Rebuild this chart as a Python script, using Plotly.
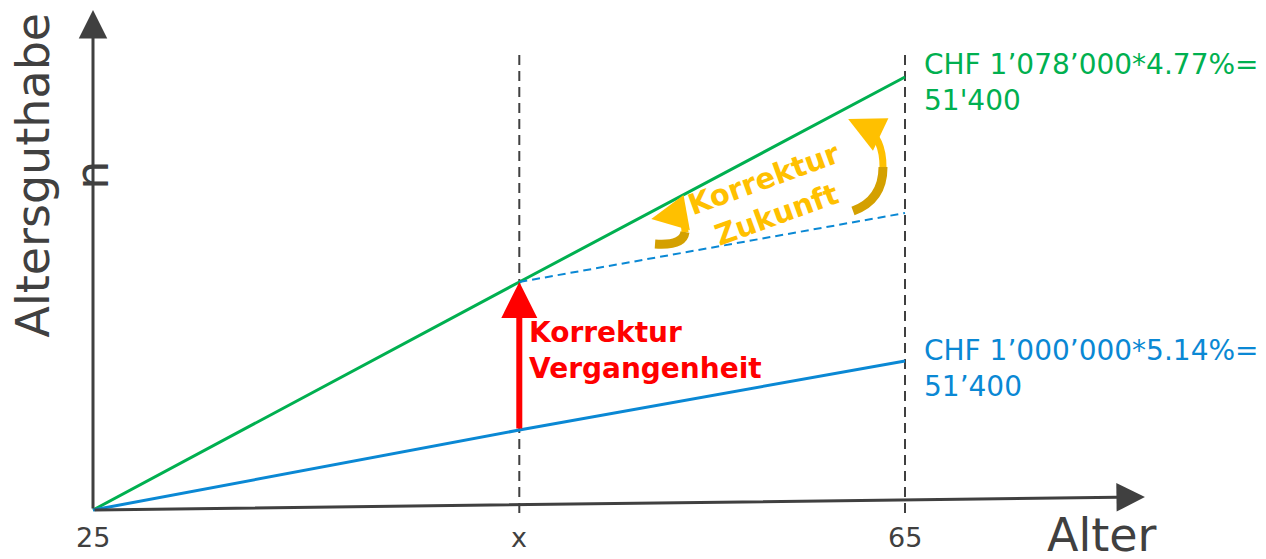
import plotly.graph_objects as go

# Schematic data: age on x, Altersguthaben (arbitrary units) on y
ages = [25, 46, 65]
tick_labels = ["25", "x", "65"]
green_vals = [0, 228, 433]     # Altersguthaben with higher capital
blue_vals = [0, 80, 149]       # original Altersguthaben
proj_ages = [46, 65]
proj_vals = [228, 297]         # projected path after correction
guide_ages = [46, 65]

GREEN = "#00b050"
BLUE = "#0a88d4"
DARK = "#404040"
GOLD = "#ffc000"
GOLD_DARK = "#d4a000"
FONT = "DejaVu Sans"

fig = go.Figure()

# dashed vertical guides at x and 65
for a in guide_ages:
    fig.add_trace(go.Scatter(x=[a, a], y=[-3, 460], mode="lines",
                             line=dict(color=DARK, width=2, dash="10px,6px"),
                             hoverinfo="skip"))

fig.add_trace(go.Scatter(x=ages, y=green_vals, mode="lines",
                         line=dict(color=GREEN, width=3), hoverinfo="skip"))
fig.add_trace(go.Scatter(x=ages, y=blue_vals, mode="lines",
                         line=dict(color=BLUE, width=3), hoverinfo="skip"))
fig.add_trace(go.Scatter(x=proj_ages, y=proj_vals, mode="lines",
                         line=dict(color=BLUE, width=2, dash="8px,5px"),
                         hoverinfo="skip"))

# curved gold arrows (Korrektur Zukunft), lower half a bit darker
fig.add_shape(type="path", path="M 52.685,266 Q 54.064,264 54.163,278",
              line=dict(color=GOLD_DARK, width=9))
fig.add_shape(type="path", path="M 54.163,278 Q 54.163,294 53.325,294",
              line=dict(color=GOLD, width=7))
fig.add_shape(type="path", path="M 62.438,299 Q 63.916,310 63.916,343",
              line=dict(color=GOLD_DARK, width=9))
fig.add_shape(type="path", path="M 63.916,343 Q 63.916,372 63.030,383",
              line=dict(color=GOLD, width=7))

annos = []


def arrow(x, y, ax, ay, color, width, size):
    annos.append(dict(x=x, y=y, ax=ax, ay=ay, xref="x", yref="y",
                      axref="x", ayref="y", text="", showarrow=True,
                      arrowhead=2, arrowsize=size, arrowwidth=width,
                      arrowcolor=color, standoff=0, startstandoff=0))


# axes
arrow(25, 500, 25, 0, DARK, 3, 1.9)
arrow(76.82, 13, 25, 0, DARK, 3, 1.9)
# Korrektur Vergangenheit
arrow(ages[1], green_vals[1], ages[1], blue_vals[1], "#ff0000", 6, 1.2)
# heads of the curved arrows
arrow(52.50, 291, 53.325, 294, GOLD, 6, 1.2)
arrow(62.20, 391, 63.030, 383, GOLD, 6, 1.2)

for a, t in zip(ages, tick_labels):
    annos.append(dict(x=a, y=-27.5, text=t, showarrow=False,
                      font=dict(family=FONT, size=27, color=DARK)))

annos += [
    dict(x=74.7, y=-25, text="Alter", showarrow=False,
         font=dict(family=FONT, size=46, color=DARK)),
    dict(x=23.5, y=335, text="Altersguthabe<br>n", showarrow=False,
         textangle=-90, align="center",
         font=dict(family=FONT, size=46, color=DARK)),
    dict(x=65.84, y=428, text="CHF 1’078’000*4.77%=<br>51'400", showarrow=False,
         xanchor="left", align="left",
         font=dict(family=FONT, size=28, color=GREEN)),
    dict(x=65.84, y=142, text="CHF 1’000’000*5.14%=<br>51’400", showarrow=False,
         xanchor="left", align="left",
         font=dict(family=FONT, size=28, color=BLUE)),
    dict(x=46.4, y=160, text="<b>Korrektur<br>Vergangenheit</b>", showarrow=False,
         xanchor="left", align="left",
         font=dict(family=FONT, size=28, color="#ff0000")),
    dict(x=58.35, y=313, text="<b>Korrektur<br>Zukunft</b>", showarrow=False,
         textangle=-20, align="center",
         font=dict(family=FONT, size=29, color=GOLD)),
]

fig.update_layout(
    width=1266, height=559,
    margin=dict(l=0, r=0, t=0, b=0),
    paper_bgcolor="white", plot_bgcolor="white",
    showlegend=False,
    annotations=annos,
    xaxis=dict(range=[20.419, 82.783], visible=False, fixedrange=True),
    yaxis=dict(range=[-49, 510], visible=False, fixedrange=True),
)

# drop the default page margin so the figure fills the window exactly
fig.write_html("out.html", config={"displayModeBar": False},
               post_script="document.body.style.margin='0';")
